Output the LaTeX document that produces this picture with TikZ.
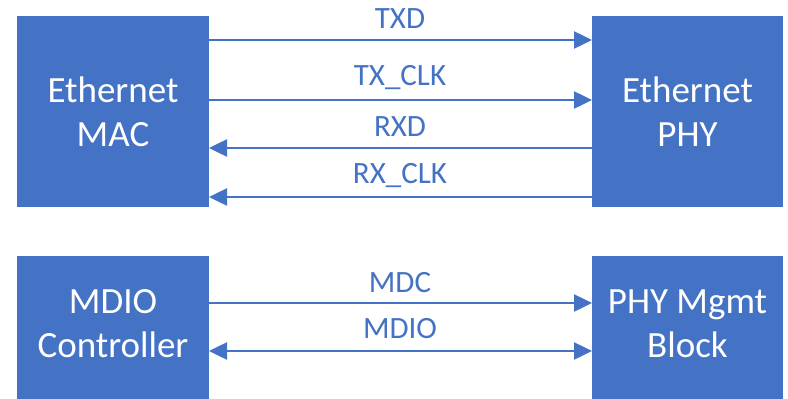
\documentclass[tikz,border=0pt]{standalone}
\usepackage{fontspec}
\setmainfont{Carlito}
\usetikzlibrary{arrows.meta}
\definecolor{officeblue}{HTML}{4472C4}
\begin{document}
\begin{tikzpicture}[x=1pt,y=-1pt,
  block/.style={fill=officeblue, draw=none, text=white, align=center,
    font=\fontsize{37}{44}\selectfont},
  sig/.style={draw=officeblue, line width=2.5pt,
    -{Triangle[length=18pt,width=17pt]}},
  bisig/.style={draw=officeblue, line width=2.5pt,
    {Triangle[length=18pt,width=17pt]}-{Triangle[length=18pt,width=17pt]}},
  lbl/.style={text=officeblue, font=\fontsize{31}{34}\selectfont, inner sep=0pt}]
\useasboundingbox (0,0) rectangle (788,399);
\begin{scope}
\clip (0,0) rectangle (788,399);
% boxes
\fill[officeblue] (17,16) rectangle (209,207);
\fill[officeblue] (592,16) rectangle (783,207);
\fill[officeblue] (17,256) rectangle (209,410);
\fill[officeblue] (592,256) rectangle (783,410);
\end{scope}
\node[block] (mac) at (113,111.5) {Ethernet\\MAC};
\node[block] (phy) at (687.5,111.5) {Ethernet\\PHY};
\node[block] (mdio) at (113,324) {MDIO\\Controller};
\node[block] (mgmt) at (687.5,324) {PHY Mgmt\\Block};
% edge anchors on the box sides
\coordinate (a1) at (209,40);  \coordinate (b1) at (592,40);
\coordinate (a2) at (209,100); \coordinate (b2) at (592,100);
\coordinate (a3) at (209,148); \coordinate (b3) at (592,148);
\coordinate (a4) at (209,197); \coordinate (b4) at (592,197);
\coordinate (a5) at (209,303); \coordinate (b5) at (592,303);
\coordinate (a6) at (209,351); \coordinate (b6) at (592,351);
% signals
\draw[sig] (a1) -- (b1);
\draw[sig] (a2) -- (b2);
\draw[sig] (b3) -- (a3);
\draw[sig] (b4) -- (a4);
\draw[sig] (a5) -- (b5);
\draw[bisig] (a6) -- (b6);
% signal names
\node[lbl] (l1) at (400,19) {TXD};
\node[lbl] (l2) at (400,78) {TX\_CLK};
\node[lbl] (l3) at (400,127) {RXD};
\node[lbl] (l4) at (400,176) {RX\_CLK};
\node[lbl] (l5) at (400,283) {MDC};
\node[lbl] (l6) at (400,329) {MDIO};
\end{tikzpicture}
\end{document}
